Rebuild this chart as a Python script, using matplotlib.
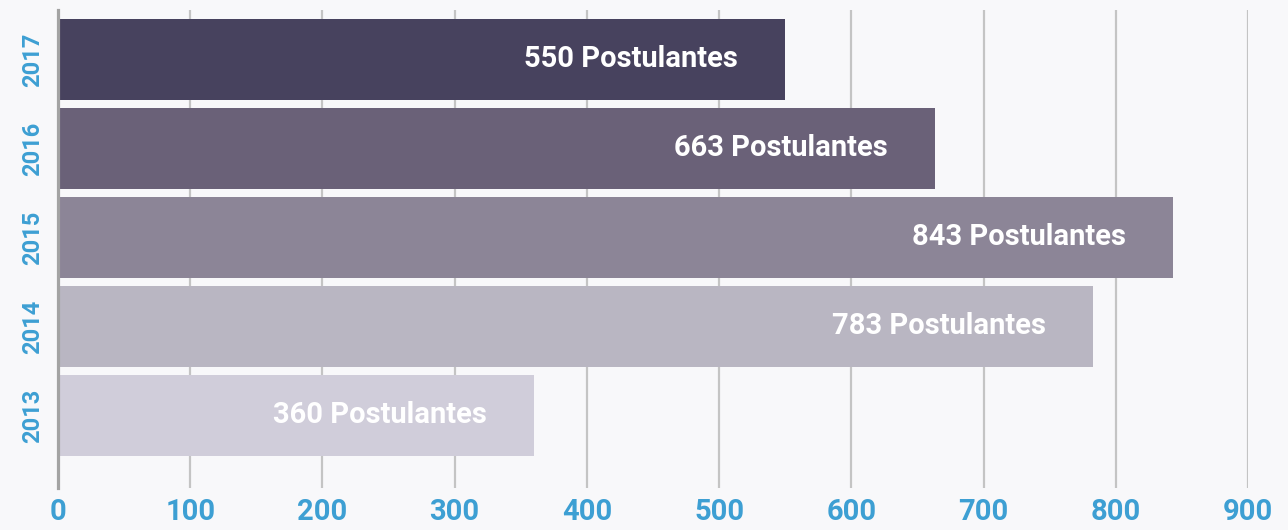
import matplotlib
matplotlib.use("Agg")
import matplotlib.pyplot as plt

years = ["2013", "2014", "2015", "2016", "2017"]
postulantes = [360, 783, 843, 663, 550]
colores = ["#d0cdda", "#b9b6c2", "#8c8597", "#6a6178", "#47425e"]
xticks = [0, 100, 200, 300, 400, 500, 600, 700, 800, 900]

plt.rcParams['font.family'] = ['Roboto', 'DejaVu Sans']
fondo = "#f8f8fa"
azul = "#3d9fd3"

fig = plt.figure(figsize=(12.88, 5.30), dpi=100, facecolor=fondo)
ax = fig.add_axes([58 / 1288, 42 / 530, 1190 / 1288, 478 / 530])
ax.set_facecolor(fondo)

pos = list(range(len(years)))
ax.barh(pos, postulantes, height=0.91, color=colores, zorder=3)

for p, v in zip(pos, postulantes):
    ax.annotate(f"{v} Postulantes", xy=(v, p), xytext=(-47, 0), textcoords="offset pixels",
                ha="right", va="center", color="white", fontsize=21, fontweight="bold", zorder=4)

ax.set_xlim(0, 900)
ax.set_ylim(-0.815, 4.556)
ax.set_xticks(xticks)
ax.set_xticklabels([str(t) for t in xticks])
ax.set_yticks(pos)
ax.set_yticklabels(years, rotation=90, va="center")

ax.grid(axis="x", color="#c4c4c4", linewidth=1.6, zorder=0)
ax.grid(axis="y", visible=False)
for s in ["top", "right", "bottom"]:
    ax.spines[s].set_visible(False)
ax.spines["left"].set_color("#a3a3a3")
ax.spines["left"].set_linewidth(2.3)
ax.spines["left"].set_zorder(5)

ax.tick_params(axis="x", length=0, pad=7, labelsize=21, labelcolor=azul)
ax.tick_params(axis="y", length=0, pad=10, labelsize=17, labelcolor=azul)
for lbl in ax.get_xticklabels() + ax.get_yticklabels():
    lbl.set_fontweight("bold")

fig.savefig("out.png", dpi=100, facecolor=fondo)
